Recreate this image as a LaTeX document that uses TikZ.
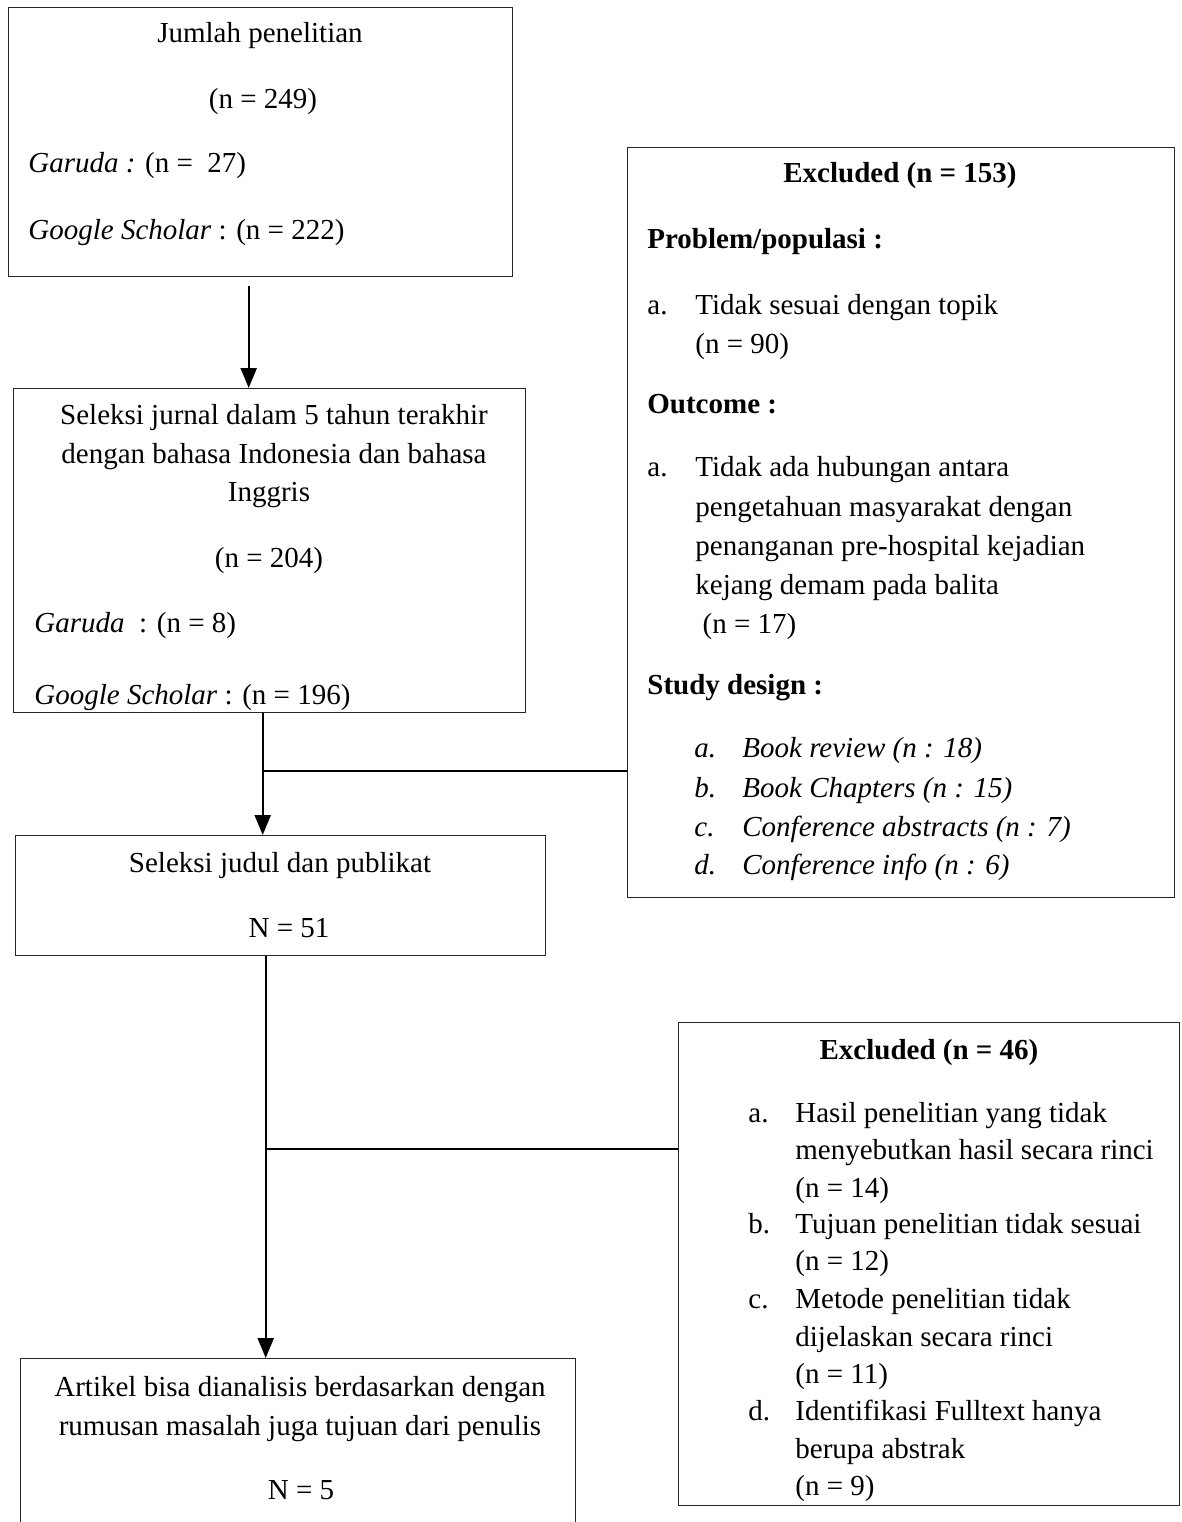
\documentclass[tikz,border=0pt]{standalone}
\usepackage{fontspec}
\setmainfont{Liberation Serif}
\usetikzlibrary{arrows.meta}
\tikzset{
  box/.style = {draw=black!85, line width=0.7pt, anchor=north west, inner sep=0pt},
  ltxt/.style = {inner sep=0pt, anchor=base west},
  ctxt/.style = {inner sep=0pt, anchor=base},
  arr/.style = {-{Triangle[length=10pt,width=8pt]}, line width=1.1pt},
  link/.style = {line width=0.6pt}
}
\begin{document}
\begin{tikzpicture}[x=0.5pt, y=-0.5pt, font=\fontsize{14.5}{17.5}\selectfont]
\useasboundingbox (0,0) rectangle (1182,1522);
% boxes
\node[box, minimum width=252pt, minimum height=134.5pt] (jumlah) at (8,7) {};
\node[box, minimum width=256pt, minimum height=162pt] (jurnal) at (13,388) {};
\node[box, minimum width=265pt, minimum height=60pt] (judul) at (15,835) {};
\node[box, minimum width=277.5pt, minimum height=90pt] (artikel) at (20,1358) {};
\node[box, minimum width=273.5pt, minimum height=375pt] (excl1) at (627,147) {};
\node[box, minimum width=250.5pt, minimum height=241.5pt] (excl2) at (678,1022) {};
% jumlah penelitian
\node[ctxt] (jumlahA) at (260,42) {Jumlah penelitian};
\node[ctxt] (jumlahB) at (263,108) {(n = 249)};
\node[ltxt] (jumlahC) at (28,172) {\textit{Garuda :} (n = \ 27)};
\node[ltxt] (jumlahD) at (28,239) {\textit{Google Scholar} : (n = 222)};
% seleksi jurnal
\node[ctxt] (jurnalA) at (274,424) {Seleksi jurnal dalam 5 tahun terakhir};
\node[ctxt] (jurnalB) at (274,463) {dengan bahasa Indonesia dan bahasa};
\node[ctxt] (jurnalC) at (269,501) {Inggris};
\node[ctxt] (jurnalD) at (269,567) {(n = 204)};
\node[ltxt] (jurnalE) at (34,632) {\textit{Garuda} \ : (n = 8)};
\begin{scope}
  \clip (jurnal.north west) rectangle (jurnal.south east);
  \node[ltxt] (jurnalF) at (34,704) {\textit{Google Scholar} : (n = 196)};
\end{scope}
% seleksi judul
\node[ctxt] (judulA) at (280,872) {Seleksi judul dan publikat};
\node[ctxt] (judulB) at (289,937) {N = 51};
% artikel
\node[ctxt] (artikelA) at (300,1396) {Artikel bisa dianalisis berdasarkan dengan};
\node[ctxt] (artikelB) at (300,1435) {rumusan masalah juga tujuan dari penulis};
\node[ctxt] (artikelC) at (301,1499) {N = 5};
% excluded 153
\node[ctxt] (excl1T) at (900,182) {\textbf{Excluded (n = 153)}};
\node[ltxt] (problem) at (647,248) {\textbf{Problem/populasi :}};
\node[ltxt] (problemA) at (647,314) {a.};
\node[ltxt] (problemB) at (695,314) {Tidak sesuai dengan topik};
\node[ltxt] (problemC) at (695,353) {(n = 90)};
\node[ltxt] (outcome) at (647,413) {\textbf{Outcome :}};
\node[ltxt] (outcomeA) at (647,476) {a.};
\foreach \y/\t [count=\i] in {476/Tidak ada hubungan antara, 516/pengetahuan masyarakat dengan,
    555/penanganan pre-hospital kejadian, 594/kejang demam pada balita, 633/{\ (n = 17)}}
  \node[ltxt] (outcome\i) at (695,\y) {\t};
\node[ltxt] (design) at (647,694) {\textbf{Study design :}};
\foreach \y/\l/\t [count=\i] in {757/a./Book review (n : 18), 797/b./Book Chapters (n : 15),
    836/c./Conference abstracts (n : 7), 874/d./Conference info (n : 6)} {
  \node[ltxt] (designL\i) at (694,\y) {\textit{\l}};
  \node[ltxt] (designT\i) at (742,\y) {\textit{\t}};
}
% excluded 46
\node[ctxt] (excl2T) at (929,1059) {\textbf{Excluded (n = 46)}};
\foreach \y/\l [count=\i] in {1122/a., 1233/b., 1308/c., 1420/d.}
  \node[ltxt] (reasonL\i) at (748,\y) {\l};
\foreach \y/\t [count=\i] in {1122/Hasil penelitian yang tidak, 1159/menyebutkan hasil secara rinci,
    1197/{(n = 14)}, 1233/Tujuan penelitian tidak sesuai, 1270/{(n = 12)},
    1308/Metode penelitian tidak, 1346/dijelaskan secara rinci, 1383/{(n = 11)},
    1420/Identifikasi Fulltext hanya, 1458/berupa abstrak, 1495/{(n = 9)}}
  \node[ltxt] (reasonT\i) at (795,\y) {\t};
% connectors
\draw[arr] ([xshift=-6pt,yshift=-4.5pt]jumlah.south) -- ([xshift=-6pt]jumlah.south |- jurnal.north);
\draw[arr] ([xshift=-3.5pt]jurnal.south) -- ([xshift=-3.5pt]jurnal.south |- judul.north);
\coordinate (join1) at (262,771);
\draw[link] (join1) -- (join1 -| excl1.west);
\draw[arr] ([xshift=-7.5pt]judul.south) -- ([xshift=-7.5pt]judul.south |- artikel.north);
\coordinate (join2) at (265,1149);
\draw[link] (join2) -- (join2 -| excl2.west);
\end{tikzpicture}
\end{document}
